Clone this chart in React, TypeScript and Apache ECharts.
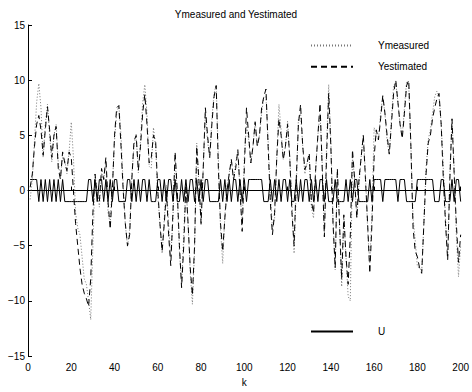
import React, { useEffect, useRef } from "react";
import * as echarts from "echarts";

const steps: number[] = Array.from({ length: 200 }, (_, i) => i + 1);

const yMeasured: number[] = [
  -0.8, 1, 4.5, 8, 9.7, 7.5, 3, 6, 7.8, 5,
  2.6, 5, 6, 2.5, 1.2, 3, 2.8, 1.5, 3.5, 6.2,
  3, -2, -3.4, -4, -6, -8, -8.5, -10, -11.7, -5,
  1.3, 0, -1.5, 1.6, 1, 2.5, -2, -3, 0.5, 4.5,
  7, 7.7, 5, 0.5, -3.1, -5.1, -3.5, 1.5, 4, 5.1,
  1.6, 4.5, 8, 9.6, 7, 2.2, 2, 5.7, 4, -0.5,
  -3, -5.7, -2.5, 0.5, -3, -6, -2.5, 3, -0.5, -5.5,
  -8.5, -4, 0.7, -3, -7.5, -10.3, -5.5, 4.3, 0.5, -3.1,
  2, 7, 4.5, 3, 6.5, 8.8, 9.6, 3, -3.5, -6.6,
  -2.2, 0.5, 1.5, 2.8, 1, 2.5, 3.5, 0, -3, 3,
  6, 4.6, 2.5, 4, 6.3, 4, 5, 7, 8.5, 8.5,
  4.5, 0, -3.5, -2.5, 3, 7.8, 5.5, 2.8, 4, 6.3,
  3, -1, -5.7, 0, 6.5, 7, 4, 1.5, 2.5, 3,
  -1.5, -2.5, 2, 5, 7, 2.5, -4, 4, 9.6, 4.5,
  -2.5, -7.2, 1.5, -3, -8.7, -2.5, -6, -9.6, -10, 3,
  1, -2.5, 0.5, 3, 5.1, 1.5, -3.5, -6.6, -2, 5.7,
  5, 4.6, 7, 8.6, 7, 4.5, 3.3, 6.5, 9.5, 9.8,
  8, 6, 5, 7.5, 9.9, 9.5, 4, -2.5, -4.5, -6.9,
  -7, -7.3, -3, 2, 4.6, 5.5, 7, 8.5, 9, 8.5,
  6, 2, -2.5, -6, 1.5, 6.5, 2, -4, -7.8, -5,
];

const yEstimated: number[] = [
  0.3, 1.5, 4, 6, 6.8, 5.5, 3.2, 5.5, 7.6, 5.5,
  3, 5, 5.8, 2, 1, 3.5, 2.5, 1.8, 3.5, 3,
  0, -3, -5, -7, -8.5, -9.3, -9.8, -10.5, -8, -2,
  1.5, -0.5, -1, 2, 1, 3, -1, -3.5, 0, 5,
  7.5, 7.7, 4, 0, -3, -5, -4, 1, 4.5, 5,
  1.8, 4, 7, 8.7, 6, 2.5, 3, 5, 4.5, 0,
  -3, -5.5, -3, 0, -4, -6.8, -2, 3.5, 0, -5,
  -8.8, -5, 0.5, -3, -7, -9.5, -5, 4, 1, -3,
  2, 7.5, 5, 3, 6, 8.5, 9.5, 2, -3, -5.5,
  -2.5, 0, 1.5, 2.8, 1, 2, 3.7, 0, -3.7, 2,
  7.5, 5, 2.5, 4, 6.2, 4, 5, 7.5, 8.5, 9.2,
  4, -1, -4, -2, 3, 6.5, 5, 2.8, 4, 6,
  3, -2, -5, 1, 6, 7.8, 4, 1.9, 2.5, 3.4,
  -1, -2, 2, 5, 7.9, 2, -4.2, 3, 8.8, 4,
  -3, -7, 2, -3, -8, -2.2, -6, -8.5, -4, 3.7,
  1, -2.5, 1, 3, 5, 1, -3, -7.5, -3, 3,
  5.5, 4.6, 6.5, 8.6, 7, 5, 3.3, 6, 8.8, 10,
  8, 6, 4.7, 7, 9.5, 10, 4, -3.4, -5.5, -6,
  -7, -7.5, -3, 1.5, 4.3, 5, 6.5, 7.5, 8.3, 8.8,
  6, 1, -3, -6.3, 1, 6.5, 1.5, -3, -6.5, -4,
];

const uInput: number[] = [
  1, 1, 1, 1, -1, 1, -1, 1, -1, 1,
  -1, 1, -1, 1, -1, 1, -1, -1, -1, -1,
  -1, -1, -1, -1, -1, -1, -1, 1, 1, -1,
  1, -1, 1, 1, -1, 1, -1, 1, -1, 1,
  1, -1, -1, -1, -1, 1, 1, -1, 1, -1,
  1, -1, 1, 1, -1, 1, -1, -1, -1, 1,
  1, -1, 1, -1, 1, 1, -1, 1, -1, -1,
  1, -1, 1, -1, 1, 1, -1, 1, -1, 1,
  -1, 1, 1, -1, -1, -1, -1, -1, 1, -1,
  1, -1, 1, -1, 1, 1, -1, 1, -1, 1,
  -1, 1, 1, 1, 1, 1, 1, 1, -1, -1,
  -1, 1, -1, 1, -1, 1, -1, 1, 1, -1,
  1, -1, -1, 1, -1, 1, -1, 1, 1, -1,
  1, -1, 1, -1, 1, 1, -1, 1, -1, -1,
  -1, 1, -1, -1, -1, -1, 1, -1, 1, -1,
  1, 1, -1, -1, -1, -1, -1, 1, -1, 1,
  1, 1, 1, -1, 1, 1, 1, 1, 1, 1,
  -1, 1, 1, 1, -1, -1, -1, -1, -1, 1,
  1, 1, 1, 1, 1, 1, 1, -1, -1, -1,
  1, 1, -1, -1, -1, 1, -1, 1, 1, -1,
];

const xTicks = { min: 0, max: 200, interval: 20 };
const yTicks = { min: -15, max: 15, interval: 5 };

const titleText = "Ymeasured and Yestimated";
const xName = "k";

const FONT = "'Liberation Sans', Arial, sans-serif";

export default function App() {
  const ref = useRef<HTMLDivElement>(null);
  useEffect(() => {
    if (!ref.current) return;
    const chart = echarts.init(ref.current, undefined, { renderer: "svg" });
    const pairs = (arr: number[]) => steps.map((k, i) => [k, arr[i]]);
    const axisCommon = {
      axisLine: { show: true, lineStyle: { color: "#000", width: 1 } },
      axisTick: { show: true, inside: true, length: 4, lineStyle: { color: "#000" } },
      splitLine: { show: false },
      axisLabel: {
        color: "#000",
        fontSize: 10,
        fontFamily: FONT,
        formatter: (v: number) => String(v).replace("-", "\u2212"),
      },
    };
    const legendCommon = {
      orient: "vertical",
      left: 310,
      itemWidth: 42,
      itemHeight: 14,
      itemGap: 10,
      padding: 0,
      selectedMode: false,
      itemStyle: { opacity: 0 },
      textStyle: { fontSize: 10, color: "#000", fontFamily: FONT, padding: [0, 0, 0, 20] },
    };
    chart.setOption({
      animation: false,
      backgroundColor: "#fff",
      title: {
        text: titleText,
        left: "center",
        top: 9,
        padding: 0,
        textStyle: { fontSize: 10, fontWeight: "normal", color: "#000", fontFamily: FONT },
      },
      grid: { left: 28, right: 9, top: 25, bottom: 27, containLabel: false },
      legend: [
        { ...legendCommon, data: ["Ymeasured", "Yestimated"], top: 40 },
        { ...legendCommon, data: ["U"], top: 326 },
      ],
      xAxis: {
        type: "value",
        ...xTicks,
        name: xName,
        nameLocation: "middle",
        nameGap: 16,
        nameTextStyle: { fontSize: 10, color: "#000", fontFamily: FONT },
        ...axisCommon,
        axisLabel: { ...axisCommon.axisLabel, margin: 6 },
      },
      yAxis: {
        type: "value",
        ...yTicks,
        ...axisCommon,
        axisLabel: { ...axisCommon.axisLabel, margin: 3 },
      },
      series: [
        {
          name: "Ymeasured",
          type: "line",
          data: pairs(yMeasured),
          symbol: "none",
          lineStyle: { color: "#777", width: 1, type: [1, 2] },
          itemStyle: { color: "#777" },
        },
        {
          name: "Yestimated",
          type: "line",
          data: pairs(yEstimated),
          symbol: "none",
          lineStyle: { color: "#000", width: 1, type: [6, 4] },
          itemStyle: { color: "#000" },
        },
        {
          name: "U",
          type: "line",
          data: pairs(uInput),
          symbol: "none",
          lineStyle: { color: "#000", width: 1, type: "solid" },
          itemStyle: { color: "#000" },
        },
      ],
    });
    return () => chart.dispose();
  }, []);
  return <div ref={ref} style={{ width: 472, height: 392, position: "absolute", left: 0, top: 0 }} />;
}
